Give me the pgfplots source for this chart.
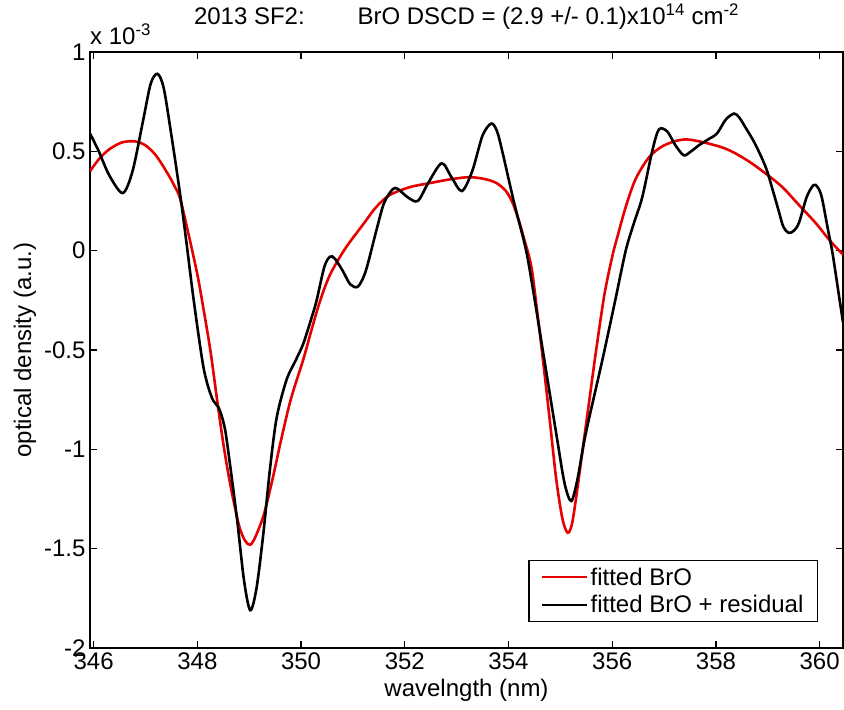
\documentclass[border=0pt]{standalone}
\usepackage{fontspec}
\setmainfont{Liberation Sans}
\usepackage{pgfplots}
\pgfplotsset{compat=1.18}

\definecolor{fitred}{RGB}{230,0,0}

\begin{document}
\begin{tikzpicture}[font=\fontsize{24bp}{28bp}\selectfont]
\path[use as bounding box] (0,0) rectangle (844bp,710bp);
\begin{axis}[
  name=od,
  at={(90bp,62bp)}, anchor=south west,
  scale only axis, width=753bp, height=596bp,
  xmin=345.93, xmax=360.45, ymin=-2, ymax=1,
  xtick={346,348,350,352,354,356,358,360},
  xticklabels={346,348,350,352,354,356,358,360},
  ytick={-2,-1.5,-1,-0.5,0,0.5,1},
  yticklabels={-2,-1.5,-1,-0.5,0,0.5,1},
  tick align=inside, major tick length=7bp,
  tick style={black, line width=1.4bp},
  axis line style={line width=1.4bp},
  xticklabel style={yshift=-1bp},
  yticklabel style={xshift=-1bp},
  xlabel={wavelngth (nm)},
  xlabel style={at={(axis description cs:0.5,-0.0705)}, anchor=center},
  ylabel={optical density (a.u.)},
  ylabel style={at={(axis description cs:-0.0863,0.5)}, anchor=center, rotate=0},
  title={2013 SF2:\hspace{2.2em}BrO DSCD = (2.9 +/- 0.1)x10\textsuperscript{14} cm\textsuperscript{-2}},
  title style={at={(axis description cs:0.5,1.05)}, anchor=center},
  legend cell align=left,
  legend style={at={(axis description cs:0.9668,0.0436)}, anchor=south east,
    draw=black, line width=1.2bp, inner xsep=12bp, inner ysep=5bp,
    row sep=5bp, font=\fontsize{24bp}{28bp}\selectfont},
  legend image code/.code={\draw[#1] (0bp,0bp) -- (45bp,0bp);},
]
% fitted cross section
\addplot[fitred, line width=2.6bp, smooth] coordinates {
(345.93,0.40) (346.10,0.46) (346.30,0.51) (346.55,0.545) (346.80,0.55)
(347.00,0.53) (347.20,0.48) (347.40,0.40) (347.55,0.33) (347.67,0.26)
(347.85,0.06) (348.00,-0.12) (348.09,-0.25) (348.25,-0.50) (348.38,-0.75)
(348.50,-0.97) (348.63,-1.17) (348.80,-1.38) (348.92,-1.46) (349.02,-1.48)
(349.12,-1.44) (349.28,-1.33) (349.45,-1.15) (349.60,-0.97) (349.80,-0.75)
(350.04,-0.55) (350.20,-0.40) (350.37,-0.25) (350.56,-0.12) (350.85,0.01)
(351.19,0.13) (351.45,0.22) (351.71,0.28) (352.10,0.32) (352.48,0.34)
(352.90,0.36) (353.25,0.37) (353.55,0.36) (353.77,0.34) (353.95,0.30)
(354.08,0.24) (354.20,0.15) (354.30,0.06) (354.44,-0.08) (354.55,-0.30)
(354.66,-0.54) (354.79,-0.84) (354.92,-1.15) (355.04,-1.35) (355.14,-1.42)
(355.22,-1.38) (355.30,-1.25) (355.43,-1.00) (355.56,-0.75) (355.69,-0.50)
(355.85,-0.22) (356.00,-0.03) (356.10,0.07) (356.26,0.22) (356.45,0.36)
(356.71,0.47) (357.00,0.53) (357.42,0.56) (357.99,0.53) (358.30,0.50)
(358.63,0.45) (358.95,0.39) (359.28,0.32) (359.60,0.23) (359.92,0.14)
(360.20,0.05) (360.45,-0.02)
};
\addlegendentry{fitted BrO}
% fit plus residual
\addplot[black, line width=2.6bp, smooth] coordinates {
(345.93,0.59) (346.10,0.50) (346.30,0.38) (346.56,0.29) (346.75,0.40)
(346.95,0.65) (347.10,0.84) (347.23,0.89) (347.35,0.82) (347.50,0.58)
(347.67,0.28) (347.80,0.02) (347.93,-0.25) (348.12,-0.59) (348.28,-0.74)
(348.41,-0.79) (348.50,-0.86) (348.57,-0.96) (348.76,-1.34) (348.90,-1.66)
(349.02,-1.81) (349.14,-1.70) (349.27,-1.43) (349.40,-1.10) (349.53,-0.84)
(349.72,-0.65) (349.90,-0.55) (350.04,-0.47) (350.20,-0.34) (350.30,-0.25)
(350.45,-0.08) (350.56,-0.03) (350.65,-0.04) (350.80,-0.10) (350.95,-0.17)
(351.10,-0.18) (351.25,-0.10) (351.45,0.10) (351.60,0.24) (351.77,0.31)
(351.87,0.31) (352.05,0.27) (352.25,0.25) (352.45,0.34) (352.71,0.44)
(352.90,0.37) (353.10,0.30) (353.30,0.40) (353.50,0.58) (353.67,0.64)
(353.78,0.60) (353.88,0.50) (354.10,0.25) (354.34,0.00) (354.50,-0.24)
(354.66,-0.50) (354.92,-0.92) (355.08,-1.17) (355.21,-1.26) (355.33,-1.15)
(355.49,-0.92) (355.81,-0.55) (356.05,-0.26) (356.26,0.00) (356.42,0.14)
(356.58,0.27) (356.77,0.50) (356.90,0.61) (357.06,0.60) (357.22,0.53)
(357.38,0.48) (357.52,0.50) (357.67,0.53) (357.85,0.56) (358.02,0.59)
(358.19,0.66) (358.35,0.69) (358.45,0.67) (358.57,0.62) (358.75,0.54)
(358.96,0.42) (359.10,0.30) (359.21,0.20) (359.30,0.12) (359.40,0.09)
(359.50,0.10) (359.60,0.14) (359.75,0.27) (359.88,0.33) (359.96,0.32)
(360.04,0.27) (360.15,0.12) (360.24,0.00) (360.30,-0.10) (360.38,-0.24)
(360.45,-0.36)
};
\addlegendentry{fitted BrO + residual}
\end{axis}
% common scale factor of the y axis
\node[anchor=base west, inner sep=0pt] at ([yshift=7bp]od.north west)
  {x 10\textsuperscript{-3}};
\end{tikzpicture}
\end{document}
